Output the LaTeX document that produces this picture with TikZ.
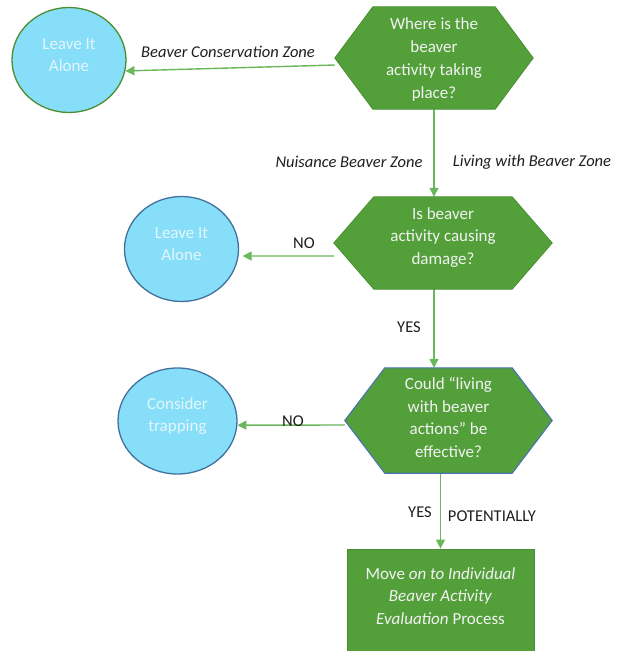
\documentclass[tikz,border=0pt]{standalone}
\usepackage{fontspec}
\setmainfont{Carlito}
\usetikzlibrary{shapes.geometric,arrows.meta}
\definecolor{gfill}{HTML}{53A03A}
\definecolor{gline}{HTML}{4A8E33}
\definecolor{aline}{HTML}{6AB65A}
\definecolor{cfill}{HTML}{86DEF8}
\definecolor{cline}{HTML}{41719C}
\definecolor{ctext}{HTML}{E4F6FD}
\definecolor{hblue}{HTML}{4A72B0}
\definecolor{htext}{HTML}{F2F2F2}
\definecolor{ltext}{HTML}{1E1E1E}
\pgfdeclarelayer{arrowlayer}
\pgfdeclarelayer{hexlayer}
\pgfsetlayers{arrowlayer,hexlayer,main}
\newcommand\drawhex[3]{%
  \begin{pgfonlayer}{hexlayer}
  \draw[#2] (#1.west) -- ([xshift=#3]#1.north west) -- ([xshift=-#3]#1.north east) -- (#1.east)
    -- ([xshift=-#3]#1.south east) -- ([xshift=#3]#1.south west) -- cycle;
  \end{pgfonlayer}}
\begin{document}
\begin{tikzpicture}[x=1pt,y=-1pt,
  shapetxt/.style={font=\fontsize{17}{22.7}\selectfont, align=center, text=htext, inner sep=0},
  circtxt/.style={font=\fontsize{17}{22.5}\selectfont, align=center, text=ctext, inner sep=0},
  hexbox/.style={rectangle, inner sep=0},
  circ/.style={ellipse, draw=cline, fill=cfill, line width=1.3pt, inner sep=0, minimum width=114pt, minimum height=105pt},
  flow/.style={draw=aline, line width=1.4pt, -{Triangle[length=9pt,width=9pt]}},
  lbl/.style={font=\fontsize{16.5}{18}\selectfont, text=ltext, inner sep=0},
  ilbl/.style={lbl, font=\fontsize{16.5}{18}\selectfont\itshape}]
\useasboundingbox (0,0) rectangle (621,651);
\clip (0,0) rectangle (621,651);

% decision shapes
\node[hexbox, minimum width=198pt, minimum height=102pt,
  label={[shapetxt, yshift=-1.5pt]center:Where is the\\beaver\\activity taking\\place?}] (q1) at (434,58) {};
\drawhex{q1}{fill=gfill, draw=gline, line width=0.8pt}{38pt}
\node[hexbox, minimum width=218pt, minimum height=92pt,
  label={[shapetxt, yshift=5.5pt]center:Is beaver\\activity causing\\damage?}] (q2) at (443,243) {};
\drawhex{q2}{fill=gfill, draw=gline, line width=0.8pt}{40pt}
\node[hexbox, minimum width=207pt, minimum height=105pt,
  label={[shapetxt, yshift=3pt]center:Could “living\\with beaver\\actions” be\\effective?}] (q3) at (448.5,420.5) {};
\drawhex{q3}{fill=gfill, draw=hblue, line width=1.1pt}{40pt}

% final box
\node[rectangle, fill=gfill, draw=gline, line width=0.8pt, minimum width=187pt, minimum height=111pt,
  label={[shapetxt, yshift=8.5pt]center:Move \textit{on to Individual}\\\textit{Beaver Activity}\\\textit{Evaluation} Process}] (r) at (440.5,604.5) {};

% outcome circles
\node[circ, draw=gline, line width=1.3pt,
  label={[circtxt, yshift=5pt]center:Leave It\\Alone}] (c1) at (69,60) {};
\node[circ,
  label={[circtxt, yshift=5pt]center:Leave It\\Alone}] (c2) at (181.5,249) {};
\node[circ, minimum width=119pt, minimum height=106pt,
  label={[circtxt, yshift=5pt]center:Consider\\trapping}] (c3) at (177.5,421) {};

% connectors
\begin{pgfonlayer}{arrowlayer}
\draw[flow] ([yshift=-7pt]q1.west) -- (c1.-11);
\draw[flow] (q1.south) -- (q1.south |- q2.north);
\draw[flow] ([yshift=-13pt]q2.west) -- ([xshift=4pt]c2.-7);
\draw[flow] (q1.south |- q2.south) -- (q1.south |- q3.north);
\draw[flow] ([yshift=-4.5pt]q3.west) -- (c3.-4);
\draw[flow] (q3.south -| r.north) -- (r.north);
\end{pgfonlayer}

% labels
\node[ilbl] (l1) at (228,52) {Beaver Conservation Zone};
\node[ilbl] (l2) at (349,162) {Nuisance Beaver Zone};
\node[ilbl] (l3) at (532,162) {Living with Beaver Zone};
\node[lbl] (l4) at (304,243) {NO};
\node[lbl] (l5) at (409,327) {YES};
\node[lbl] (l6) at (293,421) {NO};
\node[lbl] (l7) at (420,512) {YES};
\node[lbl] (l8) at (492,516) {POTENTIALLY};
\end{tikzpicture}
\end{document}
